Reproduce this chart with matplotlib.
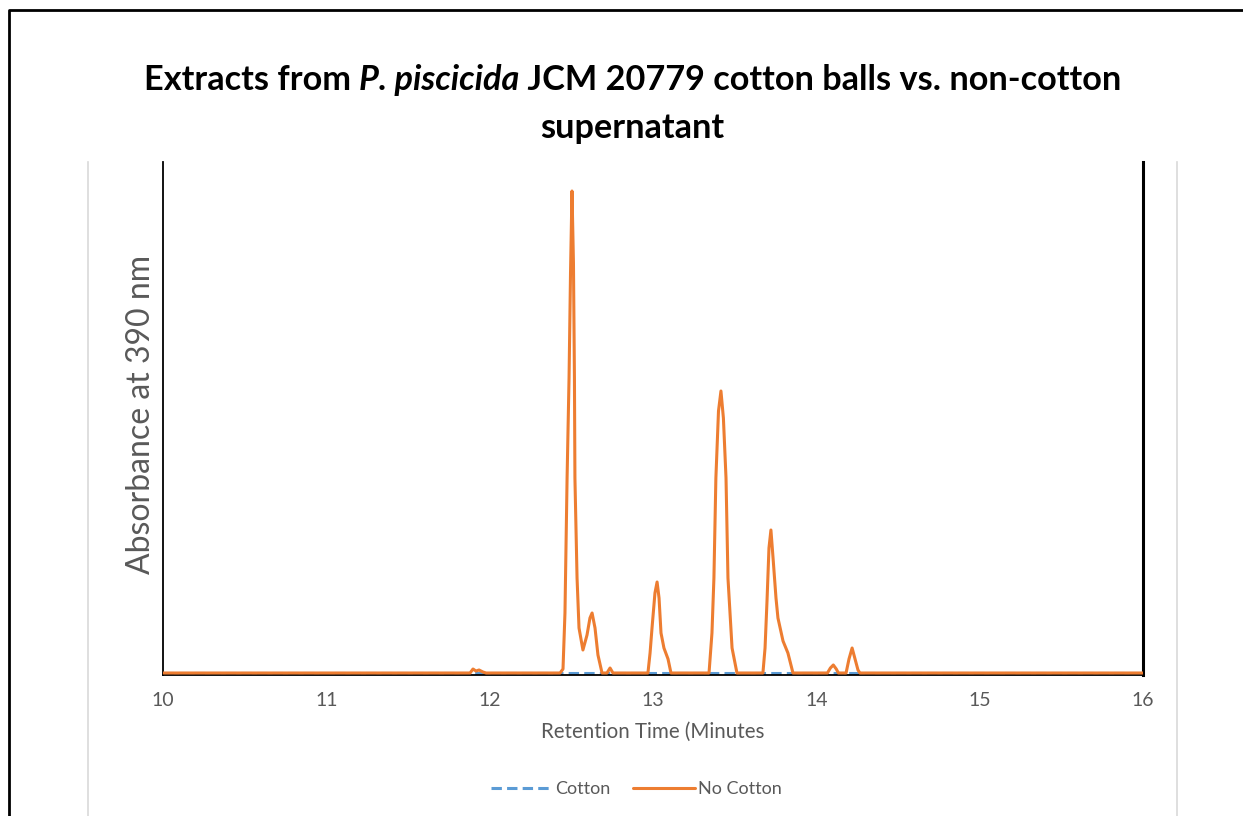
import matplotlib
matplotlib.use("Agg")
import matplotlib.pyplot as plt
from matplotlib.lines import Line2D

plt.rcParams['font.family'] = ['Lato', 'DejaVu Sans']

# retention time (minutes) vs absorbance at 390 nm (arbitrary units)
no_cotton_time = [10.0, 11.880, 11.898, 11.916, 11.935, 11.959, 11.978,
                  12.431, 12.449, 12.461, 12.474, 12.486, 12.495, 12.504, 12.513, 12.519, 12.522,
                  12.535, 12.547, 12.571, 12.596, 12.614, 12.627, 12.645, 12.663, 12.688,
                  12.718, 12.737, 12.755,
                  12.969, 12.982, 12.994, 13.012, 13.025, 13.037, 13.049, 13.067, 13.092, 13.110,
                  13.343, 13.361, 13.373, 13.385, 13.401, 13.416, 13.431, 13.447, 13.459, 13.484, 13.514,
                  13.673, 13.686, 13.698, 13.710, 13.722, 13.735, 13.753, 13.765, 13.796, 13.826, 13.857,
                  14.068, 14.086, 14.104, 14.122, 14.135,
                  14.182, 14.200, 14.219, 14.237, 14.255, 14.267, 16.0]
no_cotton_abs = [0, 0, 4, 2, 3, 1, 0,
                 0, 4, 60, 195, 295, 400, 482, 410, 295, 195,
                 95, 45, 23, 38, 55, 60, 45, 18, 0,
                 0, 5, 0,
                 0, 20, 45, 80, 91, 75, 40, 25, 14, 0,
                 0, 40, 95, 195, 262, 282, 255, 195, 95, 25, 0,
                 0, 25, 72, 125, 143, 115, 75, 55, 32, 20, 0,
                 0, 5, 8, 4, 0,
                 0, 14, 25, 14, 3, 0, 0]

cotton_time = [10.0, 16.0]
cotton_abs = [0, 0]

blue = '#5B9BD5'
orange = '#ED7D31'
grey = '#595959'

fig = plt.figure(figsize=(12.43, 8.16), dpi=100)
ax = fig.add_axes([163/1243, 1 - 675/816, (1143-163)/1243, (675-162)/816])

ax.plot(cotton_time, cotton_abs, color=blue, lw=2.2, dashes=(3.4, 1.7), label='Cotton', zorder=2)
ax.plot(no_cotton_time, no_cotton_abs, color=orange, lw=2.2, solid_joinstyle='round',
        solid_capstyle='round', label='No Cotton', zorder=3)

ax.set_xlim(10, 16)
ax.set_ylim(-2, 511)
ax.set_xticks(range(10, 17))
ax.set_yticks([])
ax.tick_params(axis='x', length=0, pad=12, labelsize=14, labelcolor=grey)

ax.spines['top'].set_visible(False)
ax.spines['left'].set_linewidth(1.3)
ax.spines['bottom'].set_linewidth(1.3)
ax.spines['right'].set_linewidth(2.2)
for s in ['left', 'bottom', 'right']:
    ax.spines[s].set_color('black')

ax.set_xlabel('Retention Time (Minutes', fontsize=14.8, color=grey)
ax.xaxis.set_label_coords(0.5, -(732 - 675) / (675 - 162))
ax.set_ylabel('Absorbance at 390 nm', fontsize=23, color=grey)
ax.yaxis.set_label_coords(-(163 - 141) / (1143 - 163), (675 - 414) / (675 - 162))
ax.xaxis.label.set_va('center')
ax.yaxis.label.set_va('center')

leg = ax.legend(loc='center', bbox_to_anchor=(636/1243, 1 - 789/816),
                bbox_transform=fig.transFigure, ncol=2, frameon=False,
                fontsize=13, handlelength=3.4, handletextpad=0.15, columnspacing=1.3)
for t in leg.get_texts():
    t.set_color(grey)

# title: bold, with the species name in italics
renderer = fig.canvas.get_renderer()
parts = [('Extracts from ', 'normal'), ('P. piscicida', 'italic'),
         (' JCM 20779 cotton balls vs. non-cotton', 'normal')]
pieces = [fig.text(0, 1 - 80/816, s, style=st, fontweight='bold', fontsize=24.7,
                   ha='left', va='center') for s, st in parts]
widths = [p.get_window_extent(renderer).width for p in pieces]
x = 632.5 - sum(widths) / 2
for p, w in zip(pieces, widths):
    p.set_x(x / 1243)
    x += w
fig.text(632.5/1243, 1 - 128/816, 'supernatant', ha='center', va='center',
         fontsize=24.7, fontweight='bold')

# chart-area edges and the page border
fig.add_artist(Line2D([88/1243, 88/1243], [0, 1 - 162/816], color='#D9D9D9', lw=1.2))
fig.add_artist(Line2D([1177/1243, 1177/1243], [0, 1 - 162/816], color='#D9D9D9', lw=1.2))
fig.add_artist(Line2D([9/1243, 9/1243, 1], [0, 1 - 10/816, 1 - 10/816], color='black', lw=2))

fig.savefig('out.png', dpi=100)
